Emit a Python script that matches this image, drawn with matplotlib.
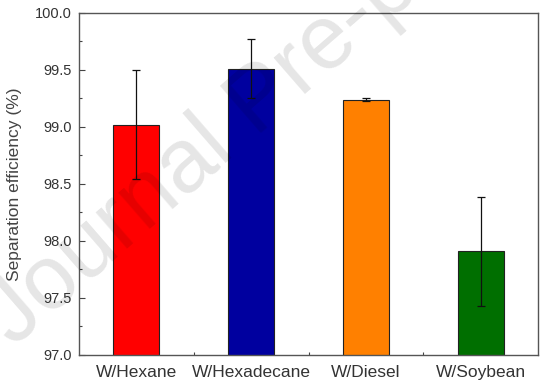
import matplotlib.pyplot as plt
from matplotlib.ticker import MultipleLocator, FixedLocator

categories = ["W/Hexane", "W/Hexadecane", "W/Diesel", "W/Soybean"]
efficiency = [99.02, 99.51, 99.24, 97.91]
errors = [0.48, 0.26, 0.01, 0.48]
bar_colors = ["#ff0000", "#00009f", "#ff8000", "#006f00"]

plt.rcParams["font.family"] = ["Liberation Sans", "DejaVu Sans"]

fig = plt.figure(figsize=(5.53, 3.91), dpi=100)
ax = fig.add_axes([0.1429, 0.0921, 0.8301, 0.8747])

x = list(range(len(categories)))
ax.bar(
    x,
    efficiency,
    width=0.4,
    color=bar_colors,
    edgecolor="#222222",
    linewidth=0.8,
    yerr=errors,
    capsize=3,
    error_kw=dict(ecolor="#111111", elinewidth=0.9, capthick=0.9),
    zorder=2,
)

ax.set_xlim(-0.5, 3.5)
ax.set_ylim(97.0, 100.0)
ax.set_xticks(x)
ax.set_xticklabels(categories, fontsize=12.5, color="#333333")
ax.xaxis.set_minor_locator(FixedLocator([0.5, 1.5, 2.5]))
ax.yaxis.set_major_locator(MultipleLocator(0.5))
ax.yaxis.set_minor_locator(MultipleLocator(0.25))
ax.yaxis.set_major_formatter(plt.FormatStrFormatter("%.1f"))
ax.tick_params(axis="y", labelsize=10.5, labelcolor="#333333")
ax.tick_params(which="major", direction="in", length=4.5, width=0.8, color="#444444")
ax.tick_params(which="minor", direction="in", length=2.5, width=0.8, color="#444444")
ax.tick_params(axis="x", pad=7)
ax.tick_params(axis="y", pad=5)
ax.set_ylabel("Separation efficiency (%)", fontsize=12.5, color="#444444", labelpad=6)
ax.yaxis.set_label_coords(-0.125, 0.5)

for side in ["left", "right", "top", "bottom"]:
    ax.spines[side].set_color("#555555")
    ax.spines[side].set_linewidth(1.0)

# watermark over the whole figure
fig.text(
    0.025, 0.11, "Journal Pre-proof",
    fontsize=65, color="black", alpha=0.1,
    rotation=41, rotation_mode="anchor", ha="left", va="baseline",
    zorder=10,
)

fig.savefig("out.png", dpi=100)
